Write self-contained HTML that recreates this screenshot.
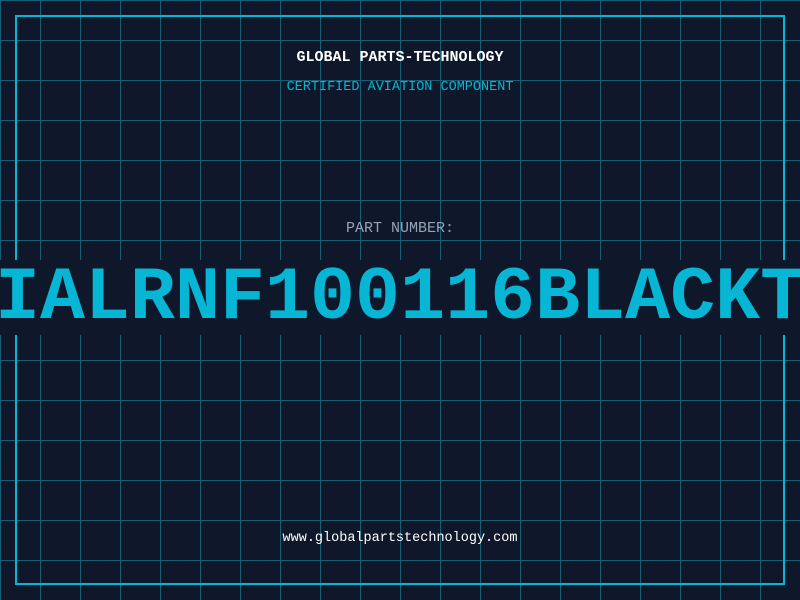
<!DOCTYPE html>
<html><head><style>
html,body{margin:0;padding:0}
body{width:800px;height:600px;position:relative;overflow:hidden;background:#0f172a;
background-image:linear-gradient(#155e75 1px,transparent 1px),linear-gradient(90deg,#155e75 1px,transparent 1px);
background-size:40px 40px;background-position:0 0;font-family:"Liberation Mono",monospace}
.frame{position:absolute;left:15px;top:15px;width:766px;height:566px;border:2px solid #06b6d4}
.band{position:absolute;left:0;top:260px;width:800px;height:75px;background:#0f172a}
.t{position:absolute;left:0;width:800px;text-align:center;white-space:nowrap}
</style></head><body>
<div class="frame"></div>
<div class="band"></div>
<div class="t" style="top:49px;font-size:15px;color:#fff;font-weight:bold">GLOBAL PARTS-TECHNOLOGY</div>
<div class="t" style="top:80px;font-size:13.5px;color:#06b6d4">CERTIFIED AVIATION COMPONENT</div>
<div class="t" style="top:220px;font-size:15px;color:#94a3b8">PART NUMBER:</div>
<div class="t" style="top:256px;font-size:75px;line-height:85px;color:#06b6d4;font-weight:bold;left:-5px;width:810px">IALRNF100116BLACKT</div>
<div class="t" style="top:531px;font-size:13.5px;color:#fff">www.globalpartstechnology.com</div>
</body></html>
